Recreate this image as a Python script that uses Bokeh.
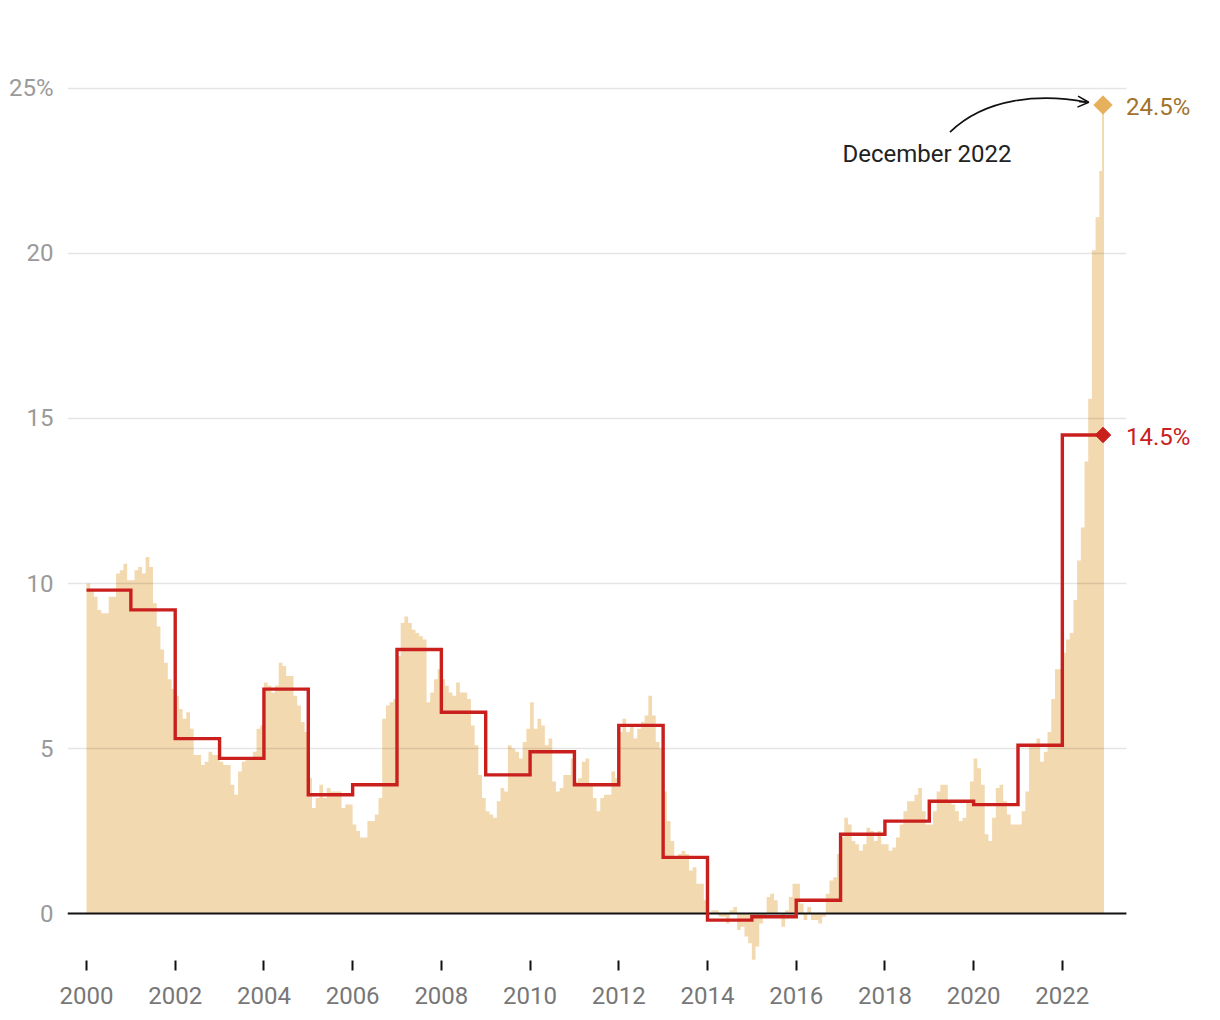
import numpy as np
from bokeh.plotting import figure
from bokeh.models import Range1d, FixedTicker, Label, Arrow, OpenHead
from bokeh.embed import file_html
from bokeh.resources import INLINE

# ---------------- data (monthly CPI y/y %, annual average %) ----------------
y2000 = [10.0, 9.8, 9.6, 9.2, 9.1, 9.1, 9.6, 9.6, 10.3, 10.4, 10.6, 10.1]
y2001 = [10.1, 10.4, 10.5, 10.3, 10.8, 10.5, 9.4, 8.7, 8.0, 7.6, 7.1, 6.8]
y2002 = [6.6, 6.2, 5.9, 6.1, 5.6, 4.8, 4.8, 4.5, 4.6, 4.9, 4.8, 4.8]
y2003 = [4.6, 4.5, 4.5, 3.9, 3.6, 4.3, 4.6, 4.7, 4.7, 4.9, 5.6, 5.7]
y2004 = [7.0, 6.9, 6.7, 6.9, 7.6, 7.5, 7.2, 7.2, 6.6, 6.3, 5.8, 5.5]
y2005 = [4.1, 3.2, 3.5, 3.9, 3.5, 3.8, 3.7, 3.7, 3.7, 3.2, 3.3, 3.3]
y2006 = [2.7, 2.5, 2.3, 2.3, 2.8, 2.8, 3.0, 3.5, 5.9, 6.3, 6.4, 6.5]
y2007 = [7.8, 8.8, 9.0, 8.8, 8.6, 8.5, 8.4, 8.3, 6.4, 6.7, 7.1, 7.4]
y2008 = [7.1, 6.9, 6.7, 6.6, 7.0, 6.7, 6.7, 6.5, 5.7, 5.1, 4.2, 3.5]
y2009 = [3.1, 3.0, 2.9, 3.4, 3.8, 3.7, 5.1, 5.0, 4.9, 4.7, 5.2, 5.6]
y2010 = [6.4, 5.6, 5.9, 5.7, 5.1, 5.3, 4.0, 3.7, 3.8, 4.2, 4.2, 4.7]
y2011 = [4.0, 4.1, 4.6, 4.7, 3.9, 3.5, 3.1, 3.5, 3.6, 3.6, 4.3, 4.1]
y2012 = [5.5, 5.9, 5.5, 5.7, 5.3, 5.6, 5.8, 6.0, 6.6, 6.0, 5.2, 5.0]
y2013 = [3.7, 2.8, 2.2, 1.7, 1.8, 1.9, 1.8, 1.3, 1.4, 0.9, 0.9, 0.4]
y2014 = [0.0, 0.1, 0.1, -0.1, -0.1, -0.3, 0.1, 0.2, -0.5, -0.4, -0.7, -0.9]
y2015 = [-1.4, -1.0, -0.3, -0.1, 0.5, 0.6, 0.4, 0.0, -0.4, 0.1, 0.5, 0.9]
y2016 = [0.9, 0.3, -0.2, 0.2, -0.2, -0.2, -0.3, -0.1, 0.6, 1.0, 1.1, 1.8]
y2017 = [2.3, 2.9, 2.7, 2.2, 2.1, 1.9, 2.1, 2.6, 2.5, 2.2, 2.5, 2.1]
y2018 = [2.1, 1.9, 2.0, 2.3, 2.7, 3.1, 3.4, 3.4, 3.6, 3.8, 3.1, 2.7]
y2019 = [2.7, 3.1, 3.7, 3.9, 3.9, 3.4, 3.3, 3.1, 2.8, 2.9, 3.4, 4.0]
y2020 = [4.7, 4.4, 3.9, 2.4, 2.2, 2.9, 3.8, 3.9, 3.4, 3.0, 2.7, 2.7]
y2021 = [2.7, 3.1, 3.7, 5.1, 5.1, 5.3, 4.6, 4.9, 5.5, 6.5, 7.4, 7.4]
y2022 = [7.9, 8.3, 8.5, 9.5, 10.7, 11.7, 13.7, 15.6, 20.1, 21.1, 22.5, 24.5]

years = list(range(2000, 2023))
annual = [9.8, 9.2, 5.3, 4.7, 6.8, 3.6, 3.9, 8.0, 6.1, 4.2, 4.9, 3.9, 5.7,
          1.7, -0.2, -0.1, 0.4, 2.4, 2.8, 3.4, 3.3, 5.1, 14.5]
x_ticks = list(range(2000, 2023, 2))
y_ticks = [0, 5, 10, 15, 20, 25]
annotation_text = "December 2022"

monthly = np.array(y2000 + y2001 + y2002 + y2003 + y2004 + y2005 + y2006 +
                   y2007 + y2008 + y2009 + y2010 + y2011 + y2012 + y2013 +
                   y2014 + y2015 + y2016 + y2017 + y2018 + y2019 + y2020 +
                   y2021 + y2022)
t = years[0] + np.arange(len(monthly)) / 12.0

# ---------------- styling ----------------
BAR = "#f2d9b0"
RED = "#c9201e"
GOLD = "#e6b05c"
GOLD_TXT = "#a2722b"
FONT = "Roboto"
FS = "24px"

X_MIN = 1999.5717      # left end of grid lines
GRID_END = 2023.4445   # right end of grid lines
X_MAX = 2025.34        # frame extends further so end labels are not clipped

p = figure(width=1215, height=1016, output_backend="svg", toolbar_location=None,
           x_range=Range1d(X_MIN, X_MAX),
           y_range=Range1d(-1.4242, 26.4545),
           min_border_left=67, min_border_right=5,
           min_border_top=40, min_border_bottom=56)
p.outline_line_color = None
p.background_fill_color = "white"
p.border_fill_color = "white"
p.xgrid.visible = False
p.ygrid.visible = False

# axes
p.xaxis.ticker = FixedTicker(ticks=x_ticks)
p.xaxis.axis_line_color = None
p.xaxis.major_tick_line_color = "#111111"
p.xaxis.major_tick_line_width = 2
p.xaxis.major_tick_in = 0
p.xaxis.major_tick_out = 10
p.xaxis.minor_tick_line_color = None
p.xaxis.major_label_standoff = 16
p.xaxis.major_label_text_font = FONT
p.xaxis.major_label_text_font_size = FS
p.xaxis.major_label_text_color = "#777777"

p.yaxis.ticker = FixedTicker(ticks=y_ticks)
p.yaxis.major_label_overrides = {y_ticks[-1]: f"{y_ticks[-1]}%"}
p.yaxis.axis_line_color = None
p.yaxis.major_tick_line_color = None
p.yaxis.minor_tick_line_color = None
p.yaxis.major_tick_in = 0
p.yaxis.major_tick_out = 0
p.yaxis.major_label_standoff = 14
p.yaxis.major_label_text_font = FONT
p.yaxis.major_label_text_font_size = FS
p.yaxis.major_label_text_color = "#9a9a9a"

# monthly bars as a step area (last month has zero width) + thin stroke
p.varea_step(x=t, y1=np.zeros_like(monthly), y2=monthly, step_mode="after",
             fill_color=BAR)
p.segment(x0=[t[-1]], y0=[0], x1=[t[-1]], y1=[monthly[-1]],
          line_color=BAR, line_width=2)

# grid lines (drawn over the bars) and zero baseline
gy = y_ticks[1:]
p.segment(x0=[X_MIN] * len(gy), y0=gy, x1=[GRID_END] * len(gy), y1=gy,
          line_color="black", line_alpha=0.1, line_width=1.5)
p.segment(x0=[X_MIN], y0=[0], x1=[GRID_END], y1=[0],
          line_color="#111111", line_width=2)

# annual step line
sx = years + [t[-1]]
sy = annual + [annual[-1]]
p.step(x=sx, y=sy, mode="after", line_color=RED, line_width=3.4,
       line_join="miter")

# end markers
p.scatter(x=[t[-1]], y=[monthly[-1]], marker="square", angle=np.pi / 4,
          size=13, fill_color=GOLD, line_color=GOLD)
p.scatter(x=[t[-1]], y=[annual[-1]], marker="square", angle=np.pi / 4,
          size=11, fill_color=RED, line_color=RED)

p.add_layout(Label(x=t[-1], y=monthly[-1], x_offset=23, y_offset=-2,
                   text=f"{monthly[-1]}%",
                   text_font=FONT, text_font_size=FS, text_color=GOLD_TXT,
                   text_baseline="middle", text_align="left"))
p.add_layout(Label(x=t[-1], y=annual[-1], x_offset=23, y_offset=-2,
                   text=f"{annual[-1]}%",
                   text_font=FONT, text_font_size=FS, text_color=RED,
                   text_baseline="middle", text_align="left"))

# annotation
p.add_layout(Label(x=2017.043, y=23.0, text=annotation_text, text_font=FONT,
                   text_font_size=FS, text_color="#222222",
                   text_baseline="middle", text_align="left"))
p.bezier(x0=[2019.466], y0=[23.676], x1=[2022.543], y1=[24.591],
         cx0=[2020.266], cy0=[24.727], cx1=[2021.506], cy1=[24.85],
         line_color="#111111", line_width=1.6)
p.add_layout(Arrow(end=OpenHead(size=11, line_width=1.6, line_color="#111111"),
                   x_start=2022.38, y_start=24.60, x_end=2022.595, y_end=24.585,
                   line_color="#111111", line_width=1.6))

open("out.html", "w").write(file_html(p, INLINE))
